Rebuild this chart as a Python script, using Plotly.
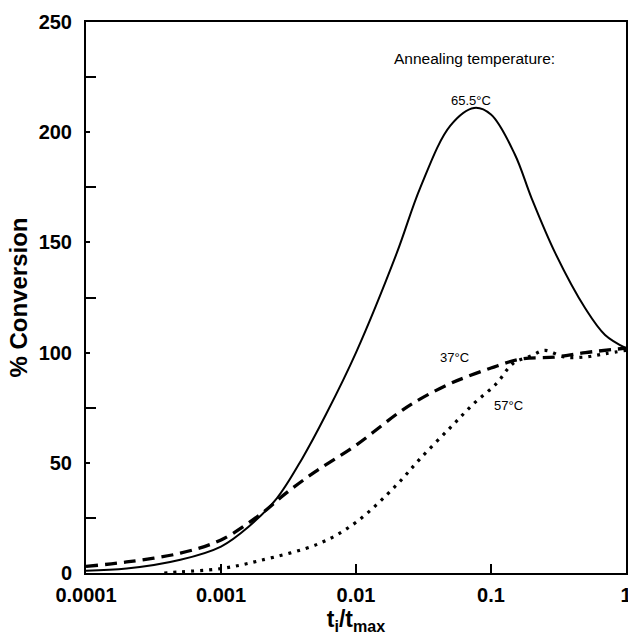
import plotly.graph_objects as go

# 65.5 C curve (solid)
x_655 = [0.0001, 0.0002, 0.0005, 0.001, 0.0016, 0.0026, 0.004, 0.006, 0.01, 0.02, 0.03, 0.05, 0.075, 0.1, 0.15, 0.2, 0.3, 0.5, 0.7, 1.0]
y_655 = [1, 2, 6, 12, 21, 34, 52, 72, 100, 145, 175, 203, 211, 208, 190, 170, 145, 120, 108, 102]

# 37 C curve (dashed)
x_37 = [0.0001, 0.0002, 0.0005, 0.001, 0.002, 0.003, 0.005, 0.01, 0.021, 0.03, 0.05, 0.066, 0.1, 0.164, 0.3, 0.5, 1.0]
y_37 = [3, 5, 9, 15, 27, 36, 46, 58, 73, 79, 86, 89, 93, 97, 98, 100, 102]

# 57 C curve (dotted)
x_57 = [0.00038, 0.0005, 0.001, 0.0019, 0.0054, 0.01, 0.02, 0.03, 0.05, 0.075, 0.11, 0.145, 0.2, 0.25, 0.35, 0.5, 0.7, 1.0]
y_57 = [0, 0.5, 2, 5.5, 13.5, 23, 40, 52, 66, 77, 86, 95, 98.6, 101, 98, 98, 99.5, 101]

x_ticks = [0.0001, 0.001, 0.01, 0.1, 1]
x_tick_text = ["0.0001", "0.001", "0.01", "0.1", "1"]

font = "Liberation Sans, Arial, sans-serif"

fig = go.Figure()
fig.add_trace(go.Scatter(x=x_655, y=y_655, mode="lines",
                         line=dict(color="black", width=2, shape="spline")))
fig.add_trace(go.Scatter(x=x_37, y=y_37, mode="lines",
                         line=dict(color="black", width=3.3, dash="12px,7px", shape="spline")))
fig.add_trace(go.Scatter(x=x_57, y=y_57, mode="lines",
                         line=dict(color="black", width=3.2, dash="3px,6px", shape="spline")))

# (text, log10 x, y, size)
labels = [
    ("Annealing temperature:", -1.119, 233.5, 15.5),
    ("65.5°C", -1.148, 214.5, 13),
    ("37°C", -1.267, 97.7, 13),
    ("57°C", -0.867, 76, 13),
]
for text, lx, ly, size in labels:
    fig.add_annotation(x=lx, y=ly, text=text, showarrow=False,
                       font=dict(family=font, size=size, color="black"))

fig.update_layout(
    width=628, height=638,
    margin=dict(l=86, r=2, t=22, b=65),
    plot_bgcolor="white", paper_bgcolor="white",
    showlegend=False,
    font=dict(family=font, color="black"),
    xaxis=dict(
        type="log", range=[-4, 0], automargin=False,
        tickvals=x_ticks, ticktext=x_tick_text, ticklabeloverflow="allow",
        ticks="inside", ticklen=9, tickwidth=1.5, tickcolor="black",
        ticklabelstandoff=3,
        showline=True, linecolor="black", linewidth=2, mirror=True,
        showgrid=False, zeroline=False,
        tickfont=dict(size=20, family=font, weight="bold"),
        title=dict(text="<b>t<sub>i</sub>/t<sub>max</sub></b>",
                   font=dict(size=23, family=font), standoff=6),
    ),
    yaxis=dict(
        range=[0, 250], dtick=50, automargin=False,
        ticks="inside", ticklen=4, tickwidth=1.5, tickcolor="black",
        ticklabelstandoff=8,
        minor=dict(dtick=25, ticks="inside", ticklen=10, tickwidth=2, tickcolor="black"),
        showline=True, linecolor="black", linewidth=2, mirror=True,
        showgrid=False, zeroline=False,
        tickfont=dict(size=20, family=font, weight="bold"),
        title=dict(text="<b>% Conversion</b>",
                   font=dict(size=24, family=font), standoff=4),
    ),
)

# drop the default page margin so the figure sits at the window corner
fig.write_html("out.html", config={"displayModeBar": False},
               post_script="document.body.style.margin = '0';")
